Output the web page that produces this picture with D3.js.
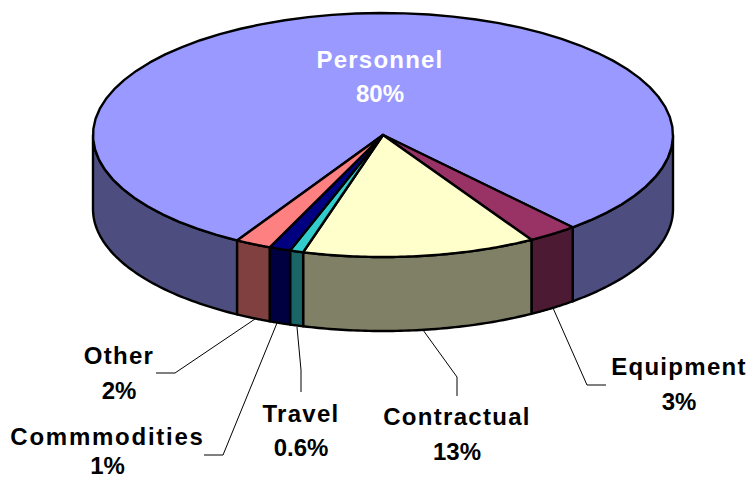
<!DOCTYPE html>
<html><head><meta charset="utf-8">
<script src="https://cdn.jsdelivr.net/npm/d3@7/dist/d3.min.js"></script>
<style>html,body{margin:0;padding:0;background:#fff}svg{display:block}text{font-family:"Liberation Sans",Arial,sans-serif;font-weight:700;font-size:24px;text-anchor:middle}</style>
</head><body><svg id="c" width="751" height="480"></svg>
<script>
const categories=["Personnel","Equipment","Contractual","Travel","Commodities","Other"];
const values=[80.3,2.8,13,0.75,1.2,2];
const pctLabels=["80%","3%","13%","0.6%","1%","2%"];
const labelNames=["Personnel","Equipment","Contractual","Travel","Commmodities","Other"];
const topColors=["#9999ff","#993366","#ffffcc","#33cccc","#000080","#ff8080"];
const sideColors=["#4d4d80","#4d1a33","#808066","#1a6666","#000040","#804040"];
const labelX=[380,679,457,301,107.5,119];
const labelY=[68,375,425,422,445,364];
const pctY=[102,410,460,456,474,399];
const nameSpacing=[1.2,1.3,1.3,1.3,1.75,1.3];
const labelFill=["#fff","#000","#000","#000","#000","#000"];
const leaders=[null,[[553,308],[587,385],[606,385]],[[423,330],[457,377],[457,396]],[[297,327],[301,370],[301,392]],[[277,323],[223,455],[204,455]],[[255,319],[175,373],[156,373]]];

const svg=d3.select("#c");
const x=d3.scaleLinear().domain([-1,1]).range([93,673]);
const y=d3.scaleLinear().domain([-1,1]).range([13,257]);
const depth=74, rad=Math.PI/180;
const pie=d3.pie().sort(null).value(d=>d).startAngle(210.2*rad).endAngle(570.2*rad)(values);
const pt=a=>[x(Math.sin(a)),y(-Math.cos(a))];
const line=d3.line();
const samples=(a,b)=>d3.range(0,61).map(i=>a+(b-a)*i/60);

function frontRanges(a0,a1){
  const out=[];
  for(const k of [0,1]){
    const lo=Math.max(a0,(90+360*k)*rad), hi=Math.min(a1,(270+360*k)*rad);
    if(hi>lo) out.push([lo,hi]);
  }
  return out;
}
pie.forEach((d,i)=>{
  frontRanges(d.startAngle,d.endAngle).forEach(([a,b])=>{
    const upper=samples(a,b).map(pt);
    const lower=upper.slice().reverse().map(p=>[p[0],p[1]+depth]);
    svg.append("path").attr("d",line(upper.concat(lower))+"Z")
      .attr("fill",sideColors[i]).attr("stroke","#000").attr("stroke-width",2.4).attr("stroke-linejoin","round");
  });
});
pie.forEach((d,i)=>{
  const c=[x(0),y(0)];
  svg.append("path").attr("d",line([c].concat(samples(d.startAngle,d.endAngle).map(pt)))+"Z")
    .attr("fill",topColors[i]).attr("stroke","#000").attr("stroke-width",2.4).attr("stroke-linejoin","round");
});
leaders.forEach(l=>{ if(l) svg.append("path").attr("d",line(l)).attr("fill","none").attr("stroke","#000").attr("stroke-width",1); });
categories.forEach((c,i)=>{
  svg.append("text").attr("x",labelX[i]).attr("y",labelY[i]).attr("fill",labelFill[i]).attr("letter-spacing",nameSpacing[i]).text(labelNames[i]);
  svg.append("text").attr("x",labelX[i]).attr("y",pctY[i]).attr("fill",labelFill[i]).text(pctLabels[i]);
});
</script></body></html>
